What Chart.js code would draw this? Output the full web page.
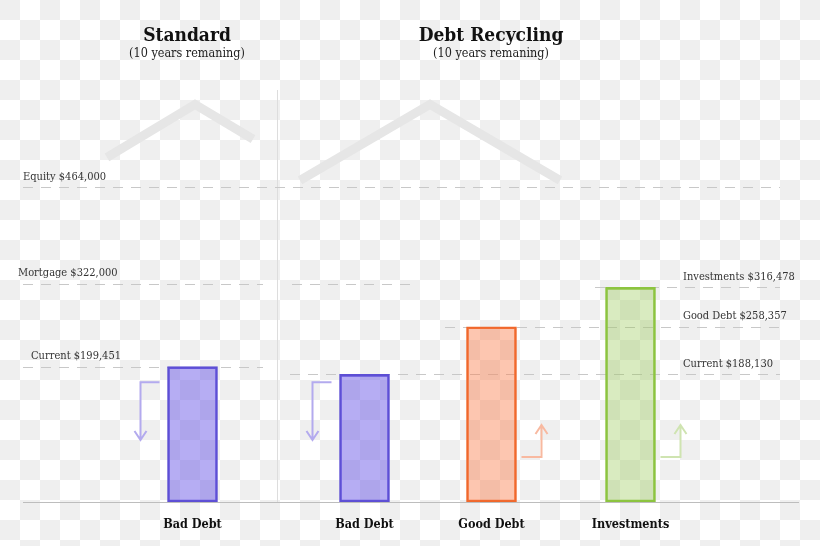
<!DOCTYPE html>
<html>
<head>
<meta charset="utf-8">
<script src="https://cdn.jsdelivr.net/npm/chart.js@4.4.1/dist/chart.umd.min.js"></script>
<style>
  html, body { margin: 0; padding: 0; background: #fff; }
  #wrap { width: 820px; height: 546px; position: relative; }
</style>
</head>
<body>
<div id="wrap"><canvas id="c"></canvas></div>
<script>
// ---- data ----
const categories = ['Bad Debt', 'Bad Debt', 'Good Debt', 'Investments'];
const barPositions = [192.5, 364.5, 491.5, 630.5];
const barValues = [199451, 188130, 258357, 316478];
const panelTitles = ['Standard', 'Debt Recycling'];
const panelSubtitles = ['(10 years remaning)', '(10 years remaning)'];
const panelCenters = [187, 491];
const refLabels = ['Equity $464,000', 'Mortgage $322,000', 'Current $199,451', 'Current $188,130', 'Good Debt $258,357', 'Investments $316,478'];
const refValues = [464000, 322000, 199451, 188130, 258357, 316478];
const roofStandard = [{x: 107, y: 508000}, {x: 195, y: 586000}, {x: 253, y: 535000}];
const roofRecycling = [{x: 300, y: 474000}, {x: 430, y: 586000}, {x: 560, y: 474000}];

// ---- layout / style (not data) ----
const FONT = "'DejaVu Serif Condensed', 'DejaVu Serif', serif";
const refSpans = [
  [[23, 780]],
  [[23, 263], [292, 417]],
  [[23, 263]],
  [[290, 780]],
  [[445, 780]],
  [[595, 780]]
];
const refLabelX = [23, 18, 31, 683, 683, 683];
const barFill = ['rgba(110,92,232,0.5)', 'rgba(110,92,232,0.5)', 'rgba(250,128,80,0.45)', 'rgba(150,200,80,0.36)'];
const barBorder = ['#5d4fd4', '#5d4fd4', '#f0682c', '#8cc43f'];
const arrowColor = ['#b3aaee', '#b3aaee', '#f8b9a0', '#cfe4b1'];

const bgPlugin = {
  id: 'bg',
  beforeDraw(chart) {
    const ctx = chart.ctx;
    ctx.save();
    ctx.fillStyle = '#ffffff';
    ctx.fillRect(0, 0, chart.width, chart.height);
    ctx.fillStyle = '#efefef';
    for (let i = 0; i * 20 < chart.width; i++) {
      for (let j = 0; j * 20 < chart.height; j++) {
        if ((i + j) % 2 === 0) ctx.fillRect(i * 20, j * 20, 20, 20);
      }
    }
    ctx.restore();
  }
};

const decoPlugin = {
  id: 'deco',
  beforeDatasetsDraw(chart) {
    const ctx = chart.ctx;
    const xs = chart.scales.x, ys = chart.scales.y;
    ctx.save();
    // separator
    ctx.strokeStyle = '#dddddd';
    ctx.lineWidth = 1;
    ctx.beginPath();
    ctx.moveTo(xs.getPixelForValue(277) + 0.5, 90);
    ctx.lineTo(xs.getPixelForValue(277) + 0.5, ys.getPixelForValue(0));
    ctx.stroke();
    // baseline
    ctx.strokeStyle = '#bdbdbd';
    ctx.beginPath();
    const by = Math.round(ys.getPixelForValue(0)) + 0.5;
    ctx.moveTo(xs.getPixelForValue(23), by);
    ctx.lineTo(xs.getPixelForValue(799), by);
    ctx.stroke();
    // reference lines
    ctx.setLineDash([10, 8]);
    ctx.strokeStyle = '#c8c8c8';
    refValues.forEach((v, i) => {
      const y = Math.round(ys.getPixelForValue(v)) + 0.5;
      refSpans[i].forEach(([a, b]) => {
        ctx.beginPath();
        ctx.moveTo(xs.getPixelForValue(a), y);
        ctx.lineTo(xs.getPixelForValue(b), y);
        ctx.stroke();
      });
    });
    ctx.setLineDash([]);
    // labels
    ctx.fillStyle = '#333333';
    ctx.font = "11px " + FONT;
    ctx.textBaseline = 'middle';
    ctx.textAlign = 'left';
    refLabels.forEach((t, i) => {
      const y = ys.getPixelForValue(refValues[i]) - 10.5;
      ctx.fillText(t, xs.getPixelForValue(refLabelX[i]), y);
    });
    // titles
    ctx.textAlign = 'center';
    ctx.textBaseline = 'alphabetic';
    panelTitles.forEach((t, i) => {
      ctx.fillStyle = '#111111';
      ctx.font = "bold 19px " + FONT;
      ctx.fillText(t, xs.getPixelForValue(panelCenters[i]), 41);
      ctx.font = "12.5px " + FONT;
      ctx.fillStyle = '#222222';
      ctx.fillText(panelSubtitles[i], xs.getPixelForValue(panelCenters[i]), 57);
    });
    ctx.restore();
  },
  afterDatasetsDraw(chart) {
    const ctx = chart.ctx;
    const ys = chart.scales.y;
    const meta = chart.getDatasetMeta(2);
    ctx.save();
    ctx.lineWidth = 2;
    meta.data.forEach((bar, i) => {
      const half = bar.width / 2;
      ctx.strokeStyle = arrowColor[i];
      ctx.beginPath();
      if (i < 2) {
        const left = bar.x - half;
        const y0 = ys.getPixelForValue(176700), y1 = ys.getPixelForValue(91300);
        const ax = left - 27;
        ctx.moveTo(left - 8, y0);
        ctx.lineTo(ax, y0);
        ctx.lineTo(ax, y1);
        ctx.moveTo(ax - 6, y1 - 9);
        ctx.lineTo(ax, y1);
        ctx.lineTo(ax + 6, y1 - 9);
      } else {
        const right = bar.x + half;
        const y0 = ys.getPixelForValue(66300), y1 = ys.getPixelForValue(113500);
        const ax = right + 25;
        ctx.moveTo(right + 5, y0);
        ctx.lineTo(ax, y0);
        ctx.lineTo(ax, y1);
        ctx.moveTo(ax - 6, y1 + 9);
        ctx.lineTo(ax, y1);
        ctx.lineTo(ax + 6, y1 + 9);
      }
      ctx.stroke();
    });
    ctx.restore();
  }
};

new Chart(document.getElementById('c'), {
  type: 'bar',
  data: {
    datasets: [
      { type: 'line', data: roofStandard, borderColor: '#e6e6e6', borderWidth: 9, pointRadius: 0, borderCapStyle: 'butt', borderJoinStyle: 'miter', order: 3 },
      { type: 'line', data: roofRecycling, borderColor: '#e6e6e6', borderWidth: 9, pointRadius: 0, borderCapStyle: 'butt', borderJoinStyle: 'miter', order: 3 },
      {
        type: 'bar',
        data: barPositions.map((x, i) => ({x: x, y: barValues[i]})),
        backgroundColor: barFill,
        borderColor: barBorder,
        borderWidth: 2,
        borderSkipped: false,
        barThickness: 50,
        order: 1
      }
    ]
  },
  options: {
    responsive: true,
    maintainAspectRatio: false,
    animation: false,
    layout: { padding: { left: 0, right: 0, top: 0, bottom: 13 } },
    plugins: { legend: { display: false }, tooltip: { enabled: false } },
    scales: {
      x: {
        type: 'linear',
        min: 0, max: 820,
        offset: false,
        grid: { display: false, drawTicks: false },
        border: { display: false },
        afterBuildTicks(scale) { scale.ticks = barPositions.map(v => ({value: v})); },
        afterFit(scale) { scale.height = 31; },
        ticks: {
          autoSkip: false, maxRotation: 0, padding: 15,
          color: '#111111',
          font: { family: FONT, size: 12.5, weight: 'bold' },
          callback(value, index) { return categories[index]; }
        }
      },
      y: { display: false, min: 0, max: 740000 }
    }
  },
  plugins: [bgPlugin, decoPlugin]
});
</script>
</body>
</html>
